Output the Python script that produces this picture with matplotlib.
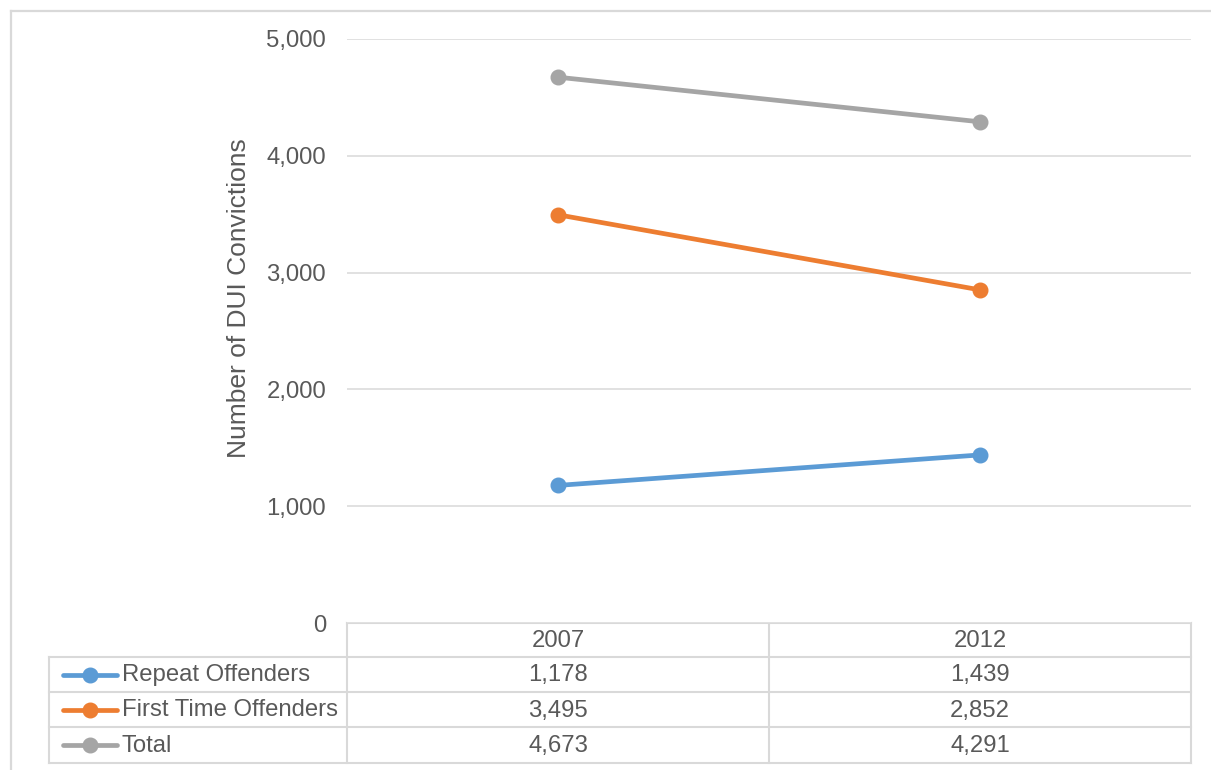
import matplotlib
matplotlib.use("Agg")
import matplotlib.pyplot as plt
from matplotlib.ticker import FuncFormatter

# data
years = ["2007", "2012"]
series_names = ["Repeat Offenders", "First Time Offenders", "Total"]
repeat = [1178, 1439]
first_time = [3495, 2852]
total = [4673, 4291]
y_ticks = [0, 1000, 2000, 3000, 4000, 5000]

colors = ["#5B9BD5", "#ED7D31", "#A5A5A5"]
txt = "#595959"
grid_c = "#D9D9D9"

plt.rcParams['font.family'] = ['Liberation Sans', 'DejaVu Sans']

W, H = 1211, 770
fig = plt.figure(figsize=(W / 100, H / 100), dpi=100)

# plot area in pixels
px_l, px_r, px_t, px_b = 347, 1191, 39, 623
ax = fig.add_axes([px_l / W, (H - px_b) / H, (px_r - px_l) / W, (px_b - px_t) / H])

xs = list(range(len(years)))
for vals, c in zip([repeat, first_time, total], colors):
    ax.plot(xs, vals, color=c, lw=3.4, marker="o", ms=10.5, solid_capstyle="round", zorder=3)

ax.set_xlim(-0.5, len(years) - 0.5)
ax.set_ylim(0, 5000)
ax.set_yticks(y_ticks)
ax.yaxis.set_major_formatter(FuncFormatter(lambda v, p: f"{int(v):,}"))
ax.tick_params(axis="y", length=0, pad=15, labelsize=17.2, labelcolor=txt)
ax.set_xticks([])
ax.grid(axis="y", color=grid_c, lw=1.1)
ax.set_axisbelow(True)
for s in ax.spines.values():
    s.set_visible(False)
ax.set_ylabel("Number of DUI Convictions", fontsize=19, color=txt)
ax.yaxis.set_label_coords(-0.114, 0.556)

# overlay in pixel coordinates for the data table and chart border
ov = fig.add_axes([0, 0, 1, 1], zorder=-1)
ov.set_xlim(0, W)
ov.set_ylim(H, 0)
ov.axis("off")
ov.patch.set_alpha(0)

# chart border (top & left visible)
ov.plot([11, W + 5], [11, 11], color=grid_c, lw=1.6)
ov.plot([11, 11], [11, H + 5], color=grid_c, lw=1.6)

tl = 49
row_y = [623, 657, 692, 727, 763]
col_w = (px_r - px_l) / len(years)
col_x = [px_l + i * col_w for i in range(len(years) + 1)]
lc = "#D9D9D9"
lw_t = 1.5

# horizontal table lines
ov.plot([px_l, px_r], [row_y[0]] * 2, color=lc, lw=lw_t)
for y in row_y[1:]:
    ov.plot([tl, px_r], [y, y], color=lc, lw=lw_t)
# vertical table lines
ov.plot([tl, tl], [row_y[1], row_y[-1]], color=lc, lw=lw_t)
for x in col_x:
    ov.plot([x, x], [row_y[0], row_y[-1]], color=lc, lw=lw_t)

# header
for i, yr in enumerate(years):
    ov.text(col_x[i] + col_w / 2, (row_y[0] + row_y[1]) / 2 + 1, yr,
            ha="center", va="center", fontsize=17.2, color=txt)

# rows
for r, (name, vals, c) in enumerate(zip(series_names, [repeat, first_time, total], colors)):
    yc = (row_y[r + 1] + row_y[r + 2]) / 2
    ov.plot([63, 117], [yc, yc], color=c, lw=3.4, solid_capstyle="round")
    ov.plot([90], [yc], marker="o", ms=10.5, color=c)
    ov.text(122, yc + 1, name, ha="left", va="center", fontsize=17.2, color=txt)
    for i, v in enumerate(vals):
        ov.text(col_x[i] + col_w / 2, yc + 1, f"{v:,}", ha="center", va="center",
                fontsize=17.2, color=txt)

fig.savefig("out.png", dpi=100, facecolor="white")
